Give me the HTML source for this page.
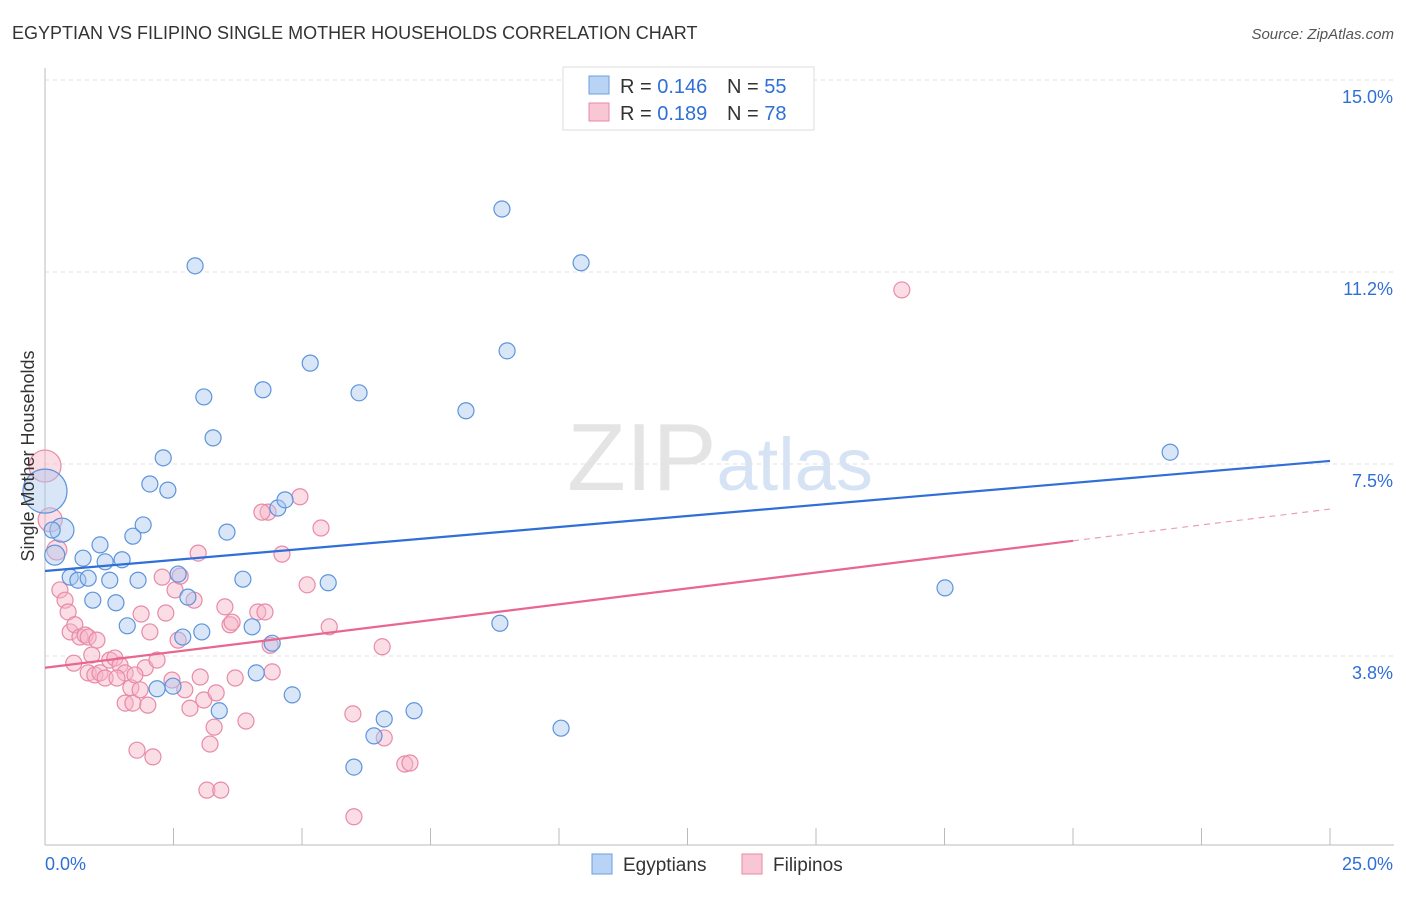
<!DOCTYPE html>
<html><head><meta charset="utf-8">
<style>
body{margin:0;background:#fff;font-family:"Liberation Sans",sans-serif;}
svg text{font-family:"Liberation Sans",sans-serif;}
</style></head><body>
<svg id="chart" width="1406" height="892" viewBox="0 0 1406 892" xmlns="http://www.w3.org/2000/svg">
<text x="12" y="39" font-size="18" fill="#333">EGYPTIAN VS FILIPINO SINGLE MOTHER HOUSEHOLDS CORRELATION CHART</text>
<text x="1394" y="39" font-size="15" fill="#555" text-anchor="end" font-style="italic">Source: ZipAtlas.com</text>
<text x="720" y="490" font-size="96" fill="#e4e4e4" text-anchor="middle" font-family="Liberation Serif">ZIP<tspan fill="#d6e3f5" font-family="Liberation Sans" font-size="74">atlas</tspan></text>
<g id="grid"></g>
<g id="axes"></g>
<g id="pts"></g>
<g id="lines"></g>
<text transform="translate(34,456) rotate(-90)" font-size="18" fill="#333" text-anchor="middle">Single Mother Households</text>
<g>
<rect x="563" y="67" width="251" height="63" fill="#fff" stroke="#ddd"/>
<rect x="589" y="76" width="20" height="18" fill="#b9d3f5" stroke="#6c9fdf"/>
<text x="620" y="93" font-size="20" fill="#333">R = <tspan fill="#2f6fd6">0.146</tspan></text>
<text x="727" y="93" font-size="20" fill="#333">N = <tspan fill="#2f6fd6">55</tspan></text>
<rect x="589" y="103" width="20" height="18" fill="#f9c6d5" stroke="#e88aa8"/>
<text x="620" y="120" font-size="20" fill="#333">R = <tspan fill="#2f6fd6">0.189</tspan></text>
<text x="727" y="120" font-size="20" fill="#333">N = <tspan fill="#2f6fd6">78</tspan></text>
</g>
<g>
<rect x="592" y="854" width="20" height="20" fill="#b9d3f5" stroke="#6c9fdf"/>
<text x="623" y="871" font-size="19" fill="#333">Egyptians</text>
<rect x="742" y="854" width="20" height="20" fill="#f9c6d5" stroke="#e88aa8"/>
<text x="773" y="871" font-size="19" fill="#333">Filipinos</text>
</g>
</svg>
<script>
const yTicks=[15.0,11.25,7.5,3.75];
const yTickLabels=["15.0%","11.2%","7.5%","3.8%"];
const xTickCount=10;
const blueX=[0,0.33,0.19,0.14,0.49,0.64,0.84,0.74,1.07,1.17,1.26,1.50,1.71,1.91,1.81,0.93,1.38,1.60,2.30,2.04,2.39,2.59,2.78,2.68,3.05,2.92,3.09,3.27,3.54,3.85,4.03,4.42,4.24,4.53,4.67,5.16,5.51,6.11,8.19,8.89,8.99,10.43,8.85,21.89,17.51,2.18,2.49,3.39,4.11,4.81,6.01,6.40,6.60,7.18,10.04];
const blueY=[6.97,6.21,5.72,6.21,5.29,5.23,5.27,5.66,5.92,5.59,5.23,5.63,6.09,6.31,5.23,4.84,4.79,4.34,7.62,7.11,6.99,5.35,4.90,4.12,4.22,11.37,8.81,8.01,6.17,5.25,4.32,4.00,8.95,6.64,6.80,9.47,5.18,8.89,8.54,12.48,9.71,11.43,4.39,7.73,5.08,3.11,3.16,2.68,3.42,2.99,1.58,2.19,2.52,2.68,2.34];
const pinkX=[0,0.10,0.23,0.29,0.39,0.45,0.49,0.58,0.68,0.78,0.84,0.91,1.01,0.56,0.84,0.97,1.07,1.17,1.26,1.36,1.46,1.56,1.40,1.67,1.56,1.71,1.79,2.00,2.10,1.95,2.04,2.18,1.87,2.28,2.53,2.63,2.35,2.59,2.72,2.47,2.82,2.90,2.98,3.02,3.09,3.21,3.29,3.33,3.15,3.42,3.50,3.60,3.70,3.91,4.14,4.28,4.38,4.42,4.34,4.61,4.96,5.10,5.37,5.53,6.01,5.99,6.56,6.60,7.00,7.10,16.67,4.22,3.64,1.85,1.75];
const pinkY=[7.46,6.41,5.82,5.04,4.84,4.61,4.22,4.36,4.12,4.16,4.12,3.77,4.06,3.61,3.42,3.38,3.42,3.32,3.67,3.71,3.57,3.42,3.32,3.13,2.83,2.83,1.91,2.79,1.78,3.52,4.22,3.67,4.57,5.29,5.04,5.31,4.59,4.06,3.09,3.28,2.73,4.84,5.76,3.34,2.89,2.03,2.36,3.03,1.13,1.13,4.71,4.36,3.32,2.48,4.61,4.61,3.96,3.44,6.56,5.74,6.86,5.14,6.25,4.32,0.61,2.62,3.93,2.15,1.64,1.66,10.90,6.56,4.41,3.09,3.38];
const blueR=[22,12,10];
const pinkR=[16,12,10];
const blueTrend=[5.41,7.56];
const pinkTrend=[3.52,6.62];
const pinkSolidEnd=20;

const X0=45,X1=1330,YB=848;
const sx=v=>X0+v*(X1-X0)/25;
const sy=v=>YB-v*51.2;
const NS="http://www.w3.org/2000/svg";
function mk(tag,attrs,parent){const e=document.createElementNS(NS,tag);for(const k in attrs)e.setAttribute(k,attrs[k]);parent.appendChild(e);return e;}
const grid=document.getElementById('grid'),axes=document.getElementById('axes'),pts=document.getElementById('pts'),lines=document.getElementById('lines');
yTicks.forEach((t,i)=>{
  const g=mk('line',{x1:X0,x2:1394,y1:sy(t),y2:sy(t),stroke:'#e2e2e2','stroke-dasharray':'4,4'},grid);
  
  
  const tx=mk('text',{x:1393,y:sy(t)+23,'font-size':18,fill:'#2f6fd6','text-anchor':'end'},axes);
  tx.textContent=yTickLabels[i];
  
  
});
const ya=mk('line',{x1:X0,x2:X0,y1:68,y2:845,stroke:'#bbb'},axes);


const xa=mk('line',{x1:X0,x2:1394,y1:845,y2:845,stroke:'#bbb'},axes);


for(let i=0;i<=xTickCount;i++){
  const t=mk('line',{x1:sx(i*2.5),x2:sx(i*2.5),y1:828,y2:845,stroke:'#bbb'},axes);
  
  
}
const xl=mk('text',{x:45,y:870,'font-size':18,fill:'#2f6fd6'},axes);xl.textContent='0.0%';


const xr=mk('text',{x:1393,y:870,'font-size':18,fill:'#2f6fd6','text-anchor':'end'},axes);xr.textContent='25.0%';



function drawPts(xs,ys,rs,fill,stroke,name){
  xs.forEach((x,i)=>{
    const c=mk('circle',{cx:sx(x),cy:sy(ys[i]),r:rs[i]||8,fill:fill,'fill-opacity':0.45,stroke:stroke,'stroke-width':1.2},pts);
    
    
  });
}
drawPts(pinkX,pinkY,pinkR,'#f7b4c8','#e88aa8','filipino-point');
drawPts(blueX,blueY,blueR,'#a9c8f0','#5d94dc','egyptian-point');

const bl=mk('line',{x1:sx(0),y1:sy(blueTrend[0]),x2:sx(25),y2:sy(blueTrend[1]),stroke:'#2f6fd6','stroke-width':2.2},lines);


const pm=pinkTrend[0]+(pinkTrend[1]-pinkTrend[0])*pinkSolidEnd/25;
const pl=mk('line',{x1:sx(0),y1:sy(pinkTrend[0]),x2:sx(pinkSolidEnd),y2:sy(pm),stroke:'#e8668f','stroke-width':2.2},lines);


const pd=mk('line',{x1:sx(pinkSolidEnd),y1:sy(pm),x2:sx(25),y2:sy(pinkTrend[1]),stroke:'#e8a0b6','stroke-width':1.2,'stroke-dasharray':'6,5'},lines);


</script>
</body></html>
